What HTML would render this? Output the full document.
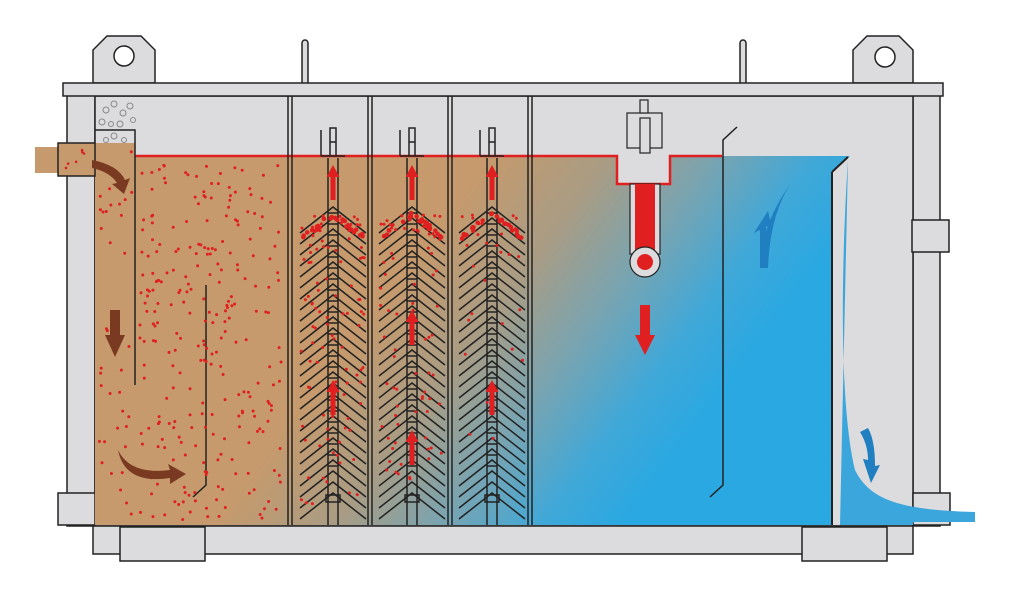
<!DOCTYPE html>
<html><head><meta charset="utf-8"><style>body{margin:0;background:#fff}svg{display:block}</style></head><body>
<svg id="s" width="1024" height="601" viewBox="0 0 1024 601" xmlns="http://www.w3.org/2000/svg">
<defs>
<linearGradient id="lq" gradientUnits="userSpaceOnUse" x1="215" y1="520" x2="479" y2="718">
<stop offset="0" stop-color="#c69a6c"/><stop offset="0.3" stop-color="#a99c84"/><stop offset="0.55" stop-color="#7aa4b0"/><stop offset="0.8" stop-color="#40a8d8"/><stop offset="1" stop-color="#2aa8e2"/>
</linearGradient>
</defs>
<g stroke="#222" stroke-width="1.5" fill="#dcdcde">
<path d="M93 83V50l14-14h34l14 14v33z"/><path d="M853 83V50l14-14h32l14 14v33z"/>
<rect x="302" y="40" width="6" height="45" rx="3"/><rect x="740" y="40" width="6" height="45" rx="3"/>
<rect x="67" y="94" width="28" height="432"/><rect x="913" y="94" width="27" height="432"/>
<rect x="95" y="96" width="818" height="430"/>
<rect x="63" y="83" width="880" height="13"/>
<rect x="912" y="220" width="37" height="32"/>
<rect x="93" y="526" width="820" height="28"/>
<rect x="120" y="527" width="85" height="34"/><rect x="802" y="527" width="85" height="34"/>
<rect x="58" y="493" width="37" height="32"/><rect x="913" y="493" width="37" height="32"/>
</g>
<circle cx="124" cy="56" r="10" fill="#fff" stroke="#222" stroke-width="1.5"/>
<circle cx="885" cy="57" r="10" fill="#fff" stroke="#222" stroke-width="1.5"/>
<path d="M95 156H617V184H670V156H850L832 172V525H95Z" fill="url(#lq)"/>
<path d="M95 143H135V525H95Z" fill="#c69a6c"/>
<rect x="35" y="147" width="60" height="26" fill="#c69a6c"/>
<rect x="58" y="143" width="37" height="33" fill="#c69a6c" stroke="#222" stroke-width="1.5"/>
<path d="M848 160C842 250 838 400 855 470C870 500 900 510 975 512V522H913V525H840Z" fill="#3aa6dc"/>
<path d="M832 172L848 157" stroke="#222" stroke-width="2"/>
<line x1="832" y1="172" x2="832" y2="525" stroke="#222" stroke-width="2"/>
<path d="M135 156H617V184H670V156H722" stroke="#e02020" stroke-width="2.5" fill="none"/>
<g stroke="#222" stroke-width="1.5" fill="none">
<path d="M95 130H135V385"/>
<path d="M206 285V485L193 497"/>
<path d="M737 127L723 140V485L710 497"/>
<path d="M288 96V525M292 96V525M368 96V525M372 96V525M448 96V525M452 96V525M528 96V525M532 96V525"/>
</g>
<g id="bub" fill="none" stroke="#888" stroke-width="1"></g>
<g id="packs"></g>
<g id="dots" fill="#e02020"></g>
<rect x="630" y="184" width="30" height="70" fill="#dcdcde" stroke="#222" stroke-width="1.2"/>
<rect x="635" y="184" width="20" height="66" fill="#e02020"/>
<circle cx="645" cy="262" r="15" fill="#dcdcde" stroke="#222" stroke-width="1.2"/>
<circle cx="645" cy="262" r="8" fill="#e02020"/>
<g stroke="#222" stroke-width="1.2" fill="#dcdcde"><rect x="627" y="113" width="35" height="35"/><rect x="640" y="118" width="10" height="35"/><rect x="640" y="100" width="8" height="13"/></g>
<path d="M640 305h10v30h5l-10 20-10-20h5z" fill="#e02020"/>
<g fill="#7a3a22">
<path d="M92 160Q118 165 125 180l5-2-6 16-12-10 5-1Q110 172 92 168z"/>
<path d="M110 310h10v25h5l-10 22-10-22h5z"/>
<path d="M118 450Q130 475 170 470l-2-6 18 10-16 10 0-6Q125 485 118 450z"/>
</g>
<g fill="#1f7fc0">
<path d="M760 268V230l-6 3 14-22 4 18-6-3 0 5Q775 205 790 185Q770 215 768 268z"/>
<path d="M860 432Q868 445 868 460l-5-1 8 24 9-18-5 1Q875 440 868 428z"/>
</g>
</svg>
<script>
var NS="http://www.w3.org/2000/svg",s=function(id){return document.getElementById(id)};
function el(p,t,a){var e=document.createElementNS(NS,t);for(var k in a)e.setAttribute(k,a[k]);p.appendChild(e);return e}
var seed=7;function r(){seed=(seed*9301+49297)%233280;return seed/233280}
var d=s("dots");
for(var i=0;i<260;i++){el(d,"circle",{cx:140+r()*145,cy:165+r()*355,r:1.5})}
for(var i=0;i<40;i++){el(d,"circle",{cx:98+r()*34,cy:150+r()*370,r:1.5})}
for(var i=0;i<6;i++){el(d,"circle",{cx:62+r()*30,cy:150+r()*22,r:1.3})}
var b=s("bub");[[106,110,3],[114,104,3],[123,113,3],[130,106,3],[102,122,3],[111,124,2.5],[120,124,3],[133,120,2.5],[106,140,2.5],[114,136,3],[124,140,2.5]].forEach(function(c){el(b,"circle",{cx:c[0],cy:c[1],r:c[2]})});
var P=s("packs");
[333,412,492].forEach(function(cx,k){
 var g=el(P,"g",{stroke:"#222","stroke-width":"1.5",fill:"none"});
 el(g,"path",{d:"M"+(cx-5)+" 158V525M"+(cx+5)+" 158V525"});
 el(g,"path",{d:"M"+(cx-12)+" 156h24M"+(cx-12)+" 130v26M"+(cx-3)+" 128h6v28h-6zM"+(cx-3)+" 142h6"});
 for(var y=207;y<=493;y+=11){
  el(g,"path",{d:"M"+(cx-33)+" "+(y+26)+"L"+cx+" "+y+"L"+(cx+33)+" "+(y+26)});
  if(y<470)el(g,"path",{d:"M"+(cx-5)+" "+(y+6)+"h10"});
 }
 el(g,"rect",{x:cx-7,y:495,width:14,height:7});
 for(var i=0;i<(k==0?100:k==1?80:30);i++){var yy=215+Math.pow(r(),1.5)*(k==0?300:k==1?270:230);el(d,"circle",{cx:cx-32+r()*64,cy:yy,r:1.5})}
 for(var i=0;i<26;i++){var xx=cx-30+r()*60;el(d,"circle",{cx:xx,cy:212+Math.abs(xx-cx)*0.75+r()*5,r:2.3})}
 var a=el(P,"g",{fill:"#e02020"});
 var ys=k==0?[165,380]:k==1?[165,310,430]:[165,380];
 ys.forEach(function(y){el(a,"path",{d:"M"+(cx-2.5)+" "+(y+35)+"V"+(y+12)+"h-4l6.5-12 6.5 12h-4V"+(y+35)+"z"})});
});
</script>
</body></html>
